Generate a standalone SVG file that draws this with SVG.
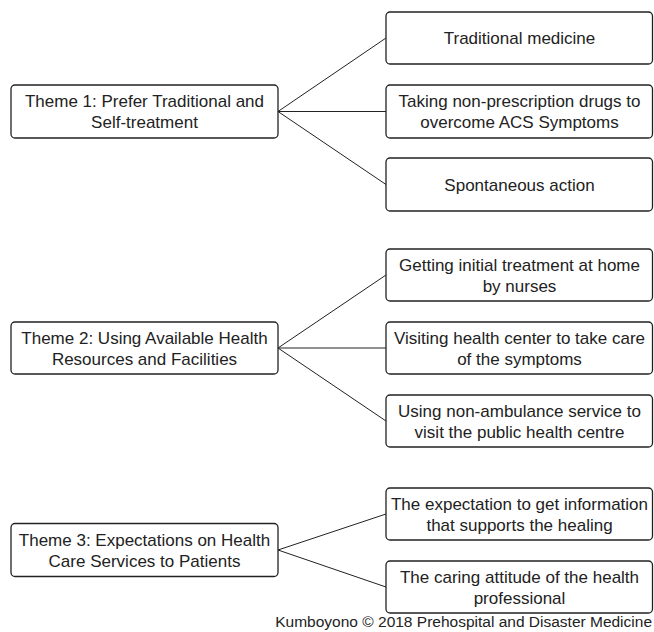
<svg xmlns="http://www.w3.org/2000/svg" width="654" height="632" viewBox="0 0 654 632">
<style>
.box{fill:#fff;stroke:#222;stroke-width:1.3}
.t{font-family:"Liberation Sans",Arial,sans-serif;font-size:17px;fill:#222;text-anchor:middle}
.c{stroke:#222;stroke-width:1;fill:none}
.f{font-family:"Liberation Sans",Arial,sans-serif;font-size:15.5px;fill:#222;text-anchor:end}
</style>
<rect width="654" height="632" fill="#fff"/>
<g id="connectors">
<path class="c" d="M278 111.5L386 38M278 111.5H386M278 111.5L386 184.5"/>
<path class="c" d="M278 348L386 275M278 348H386M278 348L386 421"/>
<path class="c" d="M278 550L386 514M278 550L386 587"/>
</g>
<g id="theme1"><rect class="box" x="11" y="85" width="267" height="53" rx="4"/><text class="t" x="144.5" y="107">Theme 1: Prefer Traditional and</text><text class="t" x="144.5" y="128">Self-treatment</text></g>
<g id="t1a"><rect class="box" x="386" y="12" width="266.5" height="52" rx="4"/><text class="t" x="519.5" y="44">Traditional medicine</text></g>
<g id="t1b"><rect class="box" x="386" y="85" width="266.5" height="53" rx="4"/><text class="t" x="519.5" y="107">Taking non-prescription drugs to</text><text class="t" x="519.5" y="128">overcome ACS Symptoms</text></g>
<g id="t1c"><rect class="box" x="386" y="158" width="266.5" height="53" rx="4"/><text class="t" x="519.5" y="190.5">Spontaneous action</text></g>
<g id="theme2"><rect class="box" x="11" y="322" width="267" height="52" rx="4"/><text class="t" x="144.5" y="343.5">Theme 2: Using Available Health</text><text class="t" x="144.5" y="364.5">Resources and Facilities</text></g>
<g id="t2a"><rect class="box" x="386" y="249" width="266.5" height="52" rx="4"/><text class="t" x="519.5" y="270.5">Getting initial treatment at home</text><text class="t" x="519.5" y="291.5">by nurses</text></g>
<g id="t2b"><rect class="box" x="386" y="322" width="266.5" height="52" rx="4"/><text class="t" x="519.5" y="343.5">Visiting health center to take care</text><text class="t" x="519.5" y="364.5">of the symptoms</text></g>
<g id="t2c"><rect class="box" x="386" y="395" width="266.5" height="52" rx="4"/><text class="t" x="519.5" y="416.5">Using non-ambulance service to</text><text class="t" x="519.5" y="437.5">visit the public health centre</text></g>
<g id="theme3"><rect class="box" x="11" y="523.5" width="267" height="53" rx="4"/><text class="t" x="144.5" y="545.5">Theme 3: Expectations on Health</text><text class="t" x="144.5" y="566.5">Care Services to Patients</text></g>
<g id="t3a"><rect class="box" x="386" y="488" width="266.5" height="52" rx="4"/><text class="t" x="519.5" y="509.5">The expectation to get information</text><text class="t" x="519.5" y="530.5">that supports the healing</text></g>
<g id="t3b"><rect class="box" x="386" y="561" width="266.5" height="52" rx="4"/><text class="t" x="519.5" y="582.5">The caring attitude of the health</text><text class="t" x="519.5" y="603.5">professional</text></g>
<text class="f" x="652" y="626.5">Kumboyono © 2018 Prehospital and Disaster Medicine</text>
</svg>
